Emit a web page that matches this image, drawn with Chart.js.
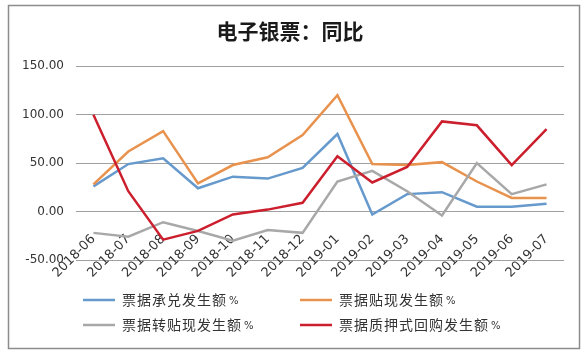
<!DOCTYPE html>
<html>
<head>
<meta charset="utf-8">
<script src="https://cdn.jsdelivr.net/npm/chart.js@4/dist/chart.umd.min.js"></script>
<style>
  html, body { margin: 0; padding: 0; background: #fff; }
  #wrap { width: 588px; height: 355px; }
</style>
</head>
<body>
<div id="wrap"><canvas id="c" width="588" height="355"></canvas></div>
<script>
const categories = ['2018-06','2018-07','2018-08','2018-09','2018-10','2018-11','2018-12','2019-01','2019-02','2019-03','2019-04','2019-05','2019-06','2019-07'];
const acceptance = [26, 49, 55, 24, 36, 34, 45, 80, -3, 18, 20, 5, 5, 8];
const discount = [28, 62, 83, 29, 48, 56, 79, 120, 49, 48, 51, 31, 14, 14];
const rediscount = [-22, -26, -11, -20, -30, -19, -22, 31, 42, 21, -4, 50, 18, 28];
const repo = [100, 21, -29, -20, -3, 2, 9, 57, 30, 46, 93, 89, 48, 85];
const seriesNames = ['票据承兑发生额 %', '票据贴现发生额 %', '票据转贴现发生额 %', '票据质押式回购发生额 %'];
const yTicks = [-50, 0, 50, 100, 150];

const colors = ['#6699cc', '#e8924e', '#a8a8a8', '#cc1f2e'];

const framePlugin = {
  id: 'frame',
  beforeDraw(chart) {
    const ctx = chart.ctx;
    ctx.save();
    ctx.fillStyle = '#ffffff';
    ctx.fillRect(0, 0, chart.width, chart.height);
    ctx.strokeStyle = '#8c8c8c';
    ctx.lineWidth = 1.5;
    ctx.strokeRect(8.5, 5.5, 571, 343);
    ctx.restore();
  }
};

const legendPlugin = {
  id: 'gridLegend',
  afterDraw(chart) {
    const ctx = chart.ctx;
    const area = chart.chartArea;
    const cols = [area.left + 7, area.left + 224];
    const rows = [area.bottom + 40, area.bottom + 65];
    ctx.save();
    chart.data.datasets.forEach((ds, i) => {
      const x = cols[i % 2];
      const y = rows[Math.floor(i / 2)];
      ctx.strokeStyle = ds.borderColor;
      ctx.lineWidth = 2.5;
      ctx.beginPath();
      ctx.moveTo(x, y);
      ctx.lineTo(x + 32, y);
      ctx.stroke();
      const parts = ds.label.split(' ');
      ctx.fillStyle = '#333333';
      ctx.textBaseline = 'middle';
      ctx.textAlign = 'left';
      ctx.font = '14px "Noto Sans CJK SC"';
      ctx.letterSpacing = '1px';
      ctx.fillText(parts[0], x + 39, y);
      const w = ctx.measureText(parts[0]).width;
      ctx.letterSpacing = '0px';
      ctx.font = '10px "DejaVu Sans"';
      ctx.fillText(parts[1] || '', x + 39 + w + 2, y + 1);
    });
    ctx.restore();
  }
};

const datasets = [acceptance, discount, rediscount, repo].map((d, i) => ({
  label: seriesNames[i],
  data: d,
  borderColor: colors[i],
  backgroundColor: colors[i],
  borderWidth: 2.5,
  pointRadius: 0,
  pointHoverRadius: 0,
  tension: 0,
  fill: false,
  order: 4 - i
}));

new Chart(document.getElementById('c'), {
  type: 'line',
  data: { labels: categories, datasets },
  plugins: [framePlugin, legendPlugin],
  options: {
    responsive: false,
    animation: false,
    devicePixelRatio: 1,
    layout: { padding: { left: 16, right: 24, top: 0, bottom: 95 } },
    plugins: {
      legend: { display: false },
      tooltip: { enabled: false },
      title: {
        display: true,
        text: '电子银票：同比',
        color: '#1a1a1a',
        font: { family: '"Noto Sans CJK SC"', size: 21, weight: 'bold', lineHeight: 1.2 },
        padding: { top: 18, bottom: 23 }
      }
    },
    scales: {
      x: {
        type: 'category',
        offset: true,
        position: { y: 0 },
        afterFit(scale) { scale.height = 0; },
        grid: { display: false, drawTicks: false },
        border: { display: false },
        ticks: {
          autoSkip: false,
          minRotation: 45,
          maxRotation: 45,
          padding: 20,
          color: '#333333',
          font: { family: '"DejaVu Sans"', size: 13 }
        }
      },
      y: {
        min: -50,
        max: 150,
        afterFit(scale) { scale.width = 60; },
        afterBuildTicks(scale) { scale.ticks = yTicks.map(v => ({ value: v })); },
        grid: { color: '#a0a0a0', lineWidth: 1, drawTicks: false },
        border: { display: false },
        ticks: {
          padding: 12,
          color: '#333333',
          font: { family: '"DejaVu Sans"', size: 12 },
          callback: (v) => Number(v).toFixed(2)
        }
      }
    }
  }
});
</script>
</body>
</html>
